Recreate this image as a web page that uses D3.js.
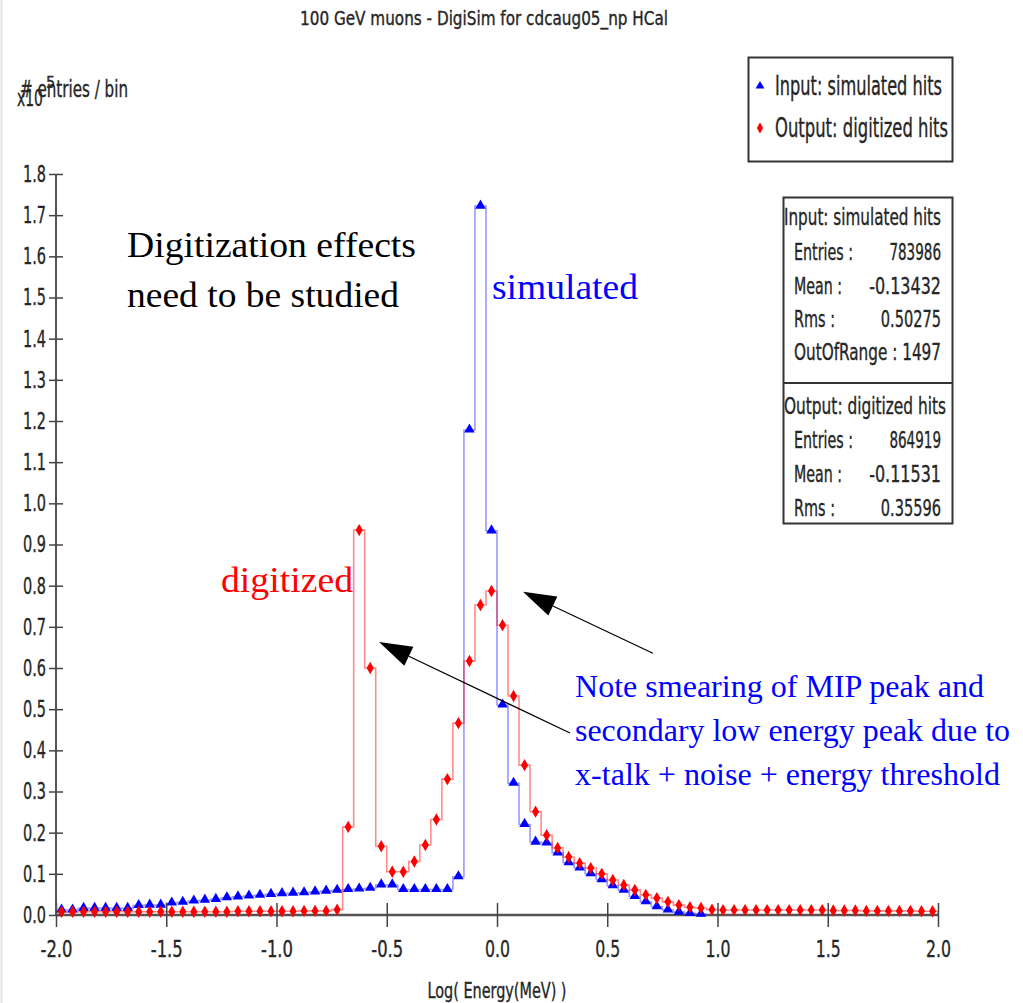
<!DOCTYPE html>
<html>
<head>
<meta charset="utf-8">
<script src="https://cdn.jsdelivr.net/npm/d3@7"></script>
<style>
  body { margin: 0; background: #fff; }
  svg { display: block; }
  .cond { font-family: "Liberation Sans Narrow", "DejaVu Sans Condensed", "Arial Narrow", sans-serif;
          stroke: #262626; stroke-width: 0.35px; }
</style>
</head>
<body>
<svg id="chart" width="1023" height="1003"></svg>
<script>
// histogram: 80 bins of 0.05 from -2 to 2, entries in units of 1e5
const binLow = -2.0;
const binWidth = 0.05;

const simHits = [
  0.012, 0.012, 0.016, 0.016, 0.016, 0.016, 0.016, 0.023, 0.024, 0.024,
  0.029, 0.031, 0.034, 0.036, 0.038, 0.042, 0.044, 0.046, 0.048, 0.050,
  0.052, 0.053, 0.054, 0.056, 0.058, 0.060, 0.062, 0.063, 0.065, 0.073,
  0.073, 0.062, 0.062, 0.062, 0.062, 0.062, 0.093, 1.178, 1.722, 0.933,
  0.510, 0.320, 0.220, 0.177, 0.175, 0.151, 0.127, 0.114, 0.100, 0.086,
  0.071, 0.060, 0.045, 0.032, 0.020, 0.012, 0.007, 0.004, 0.002, 0,
  0, 0, 0, 0, 0, 0, 0, 0, 0, 0,
  0, 0, 0, 0, 0, 0, 0, 0, 0, 0
];

const digiHits = [
  0.008, 0.008, 0.008, 0.008, 0.008, 0.008, 0.008, 0.008, 0.008, 0.008,
  0.008, 0.008, 0.008, 0.008, 0.008, 0.008, 0.009, 0.009, 0.009, 0.009,
  0.009, 0.009, 0.010, 0.010, 0.010, 0.013, 0.214, 0.935, 0.600, 0.167,
  0.105, 0.105, 0.130, 0.170, 0.232, 0.330, 0.466, 0.617, 0.753, 0.787,
  0.704, 0.532, 0.364, 0.251, 0.194, 0.163, 0.141, 0.126, 0.114, 0.100,
  0.085, 0.073, 0.061, 0.049, 0.041, 0.032, 0.024, 0.019, 0.017, 0.013,
  0.012, 0.012, 0.012, 0.012, 0.012, 0.012, 0.012, 0.012, 0.012, 0.012,
  0.011, 0.011, 0.011, 0.010, 0.010, 0.010, 0.010, 0.010, 0.009, 0.009
];

const xTicks = [-2.0, -1.5, -1.0, -0.5, 0.0, 0.5, 1.0, 1.5, 2.0];
const yTicks = [0.0, 0.1, 0.2, 0.3, 0.4, 0.5, 0.6, 0.7, 0.8, 0.9,
                1.0, 1.1, 1.2, 1.3, 1.4, 1.5, 1.6, 1.7, 1.8];

const simStats = [["Entries :", "783986"], ["Mean :", "-0.13432"], ["Rms :", "0.50275"]];
const digiStats = [["Entries :", "864919"], ["Mean :", "-0.11531"], ["Rms :", "0.35596"]];
const simOutOfRange = "OutOfRange : 1497";

const svg = d3.select("#chart");
const ink = "#262626";
const serif = '"Liberation Serif", "Times New Roman", serif';

const x = d3.scaleLinear().domain([-2, 2]).range([56, 938]);
const y = d3.scaleLinear().domain([0, 1.8]).range([915, 174]);

// left border of the original frame
svg.append("line")
  .attr("x1", 1.5).attr("x2", 1.5).attr("y1", 0).attr("y2", 1003)
  .attr("stroke", "#e4e4e4").attr("stroke-width", 2);

// title
svg.append("text").attr("class", "cond")
  .attr("x", 484).attr("y", 25)
  .attr("text-anchor", "middle")
  .attr("font-size", 19).attr("fill", ink)
  .attr("textLength", 368).attr("lengthAdjust", "spacingAndGlyphs")
  .text("100 GeV muons - DigiSim for cdcaug05_np HCal");

// step outlines
function stepPoints(vals) {
  let pts = [[binLow, 0]];
  vals.forEach((v, i) => pts.push([binLow + i * binWidth, v]));
  pts.push([binLow + vals.length * binWidth, vals[vals.length - 1]]);
  pts.push([binLow + vals.length * binWidth, 0]);
  return pts;
}
const step = d3.line().x(d => x(d[0])).y(d => y(d[1])).curve(d3.curveStepAfter);

svg.append("path")
  .attr("d", step(stepPoints(simHits)))
  .attr("fill", "none").attr("stroke", "#0000ff")
  .attr("stroke-opacity", 0.4).attr("stroke-width", 1.6);

svg.append("path")
  .attr("d", step(stepPoints(digiHits)))
  .attr("fill", "none").attr("stroke", "#ff0000")
  .attr("stroke-opacity", 0.45).attr("stroke-width", 1.6);

// axes
const axisX = d3.axisBottom(x).tickValues(xTicks).tickSize(12).tickPadding(14)
  .tickFormat(d => d.toFixed(1));
const axisY = d3.axisLeft(y).tickValues(yTicks).tickSize(7).tickPadding(3)
  .tickFormat(d => d.toFixed(1));

const gx = svg.append("g").attr("transform", `translate(0,${y(0)})`).call(axisX);
gx.selectAll(".tick line").attr("y1", -12).attr("stroke", "#444").attr("stroke-width", 1.5);
gx.select(".domain").attr("stroke", "#555").attr("stroke-width", 2.5).attr("d", `M${x(-2)},0H${x(2)}`);
gx.selectAll(".tick text").attr("textLength", d => d < 0 ? 32 : 25);

const gy = svg.append("g").attr("transform", `translate(${x(-2)},0)`).call(axisY);
gy.selectAll(".tick line").attr("x1", 7).attr("stroke", "#444").attr("stroke-width", 1.5);
gy.select(".domain").attr("stroke", "#555").attr("stroke-width", 2).attr("d", `M0,${y(1.8)}V${y(0)}`);
gy.selectAll(".tick text").attr("textLength", 23);

svg.selectAll(".tick text")
  .attr("class", "cond").attr("font-size", 23).attr("fill", ink)
  .attr("lengthAdjust", "spacingAndGlyphs");

// markers
const tri = d3.symbol().type(d3.symbolTriangle).size(48);
const dia = d3.symbol().type(d3.symbolDiamond).size(44);

svg.append("g").selectAll("path")
  .data(simHits.map((v, i) => ({ v, i })).filter(d => d.v > 0))
  .join("path")
  .attr("d", tri)
  .attr("transform", d => `translate(${x(binLow + (d.i + 0.5) * binWidth)},${y(d.v) - 0.5})`)
  .attr("fill", "#0000ff");

svg.append("g").selectAll("path")
  .data(digiHits.map((v, i) => ({ v, i })).filter(d => d.v > 0))
  .join("path")
  .attr("d", dia)
  .attr("transform", d => `translate(${x(binLow + (d.i + 0.5) * binWidth)},${y(d.v)})`)
  .attr("fill", "#ff0000");

// axis titles
svg.append("text").attr("class", "cond")
  .attr("x", 20).attr("y", 97).attr("font-size", 23).attr("fill", ink)
  .attr("textLength", 108).attr("lengthAdjust", "spacingAndGlyphs")
  .text("# entries / bin");
svg.append("text").attr("class", "cond")
  .attr("x", 17).attr("y", 106).attr("font-size", 23).attr("fill", ink)
  .attr("textLength", 26).attr("lengthAdjust", "spacingAndGlyphs")
  .text("x10");
svg.append("text").attr("class", "cond")
  .attr("x", 46).attr("y", 88).attr("font-size", 16).attr("fill", ink)
  .text("5");

svg.append("text").attr("class", "cond")
  .attr("x", 497).attr("y", 998).attr("text-anchor", "middle")
  .attr("font-size", 22).attr("fill", ink)
  .attr("textLength", 139).attr("lengthAdjust", "spacingAndGlyphs")
  .text("Log( Energy(MeV) )");

// legend
const leg = svg.append("g");
leg.append("rect").attr("x", 748.5).attr("y", 57.5).attr("width", 204).attr("height", 104)
  .attr("fill", "#fff").attr("stroke", "#333").attr("stroke-width", 2);
leg.append("path").attr("d", d3.symbol().type(d3.symbolTriangle).size(34)())
  .attr("transform", "translate(760,86)").attr("fill", "#0000ff");
leg.append("path").attr("d", d3.symbol().type(d3.symbolDiamond).size(34)())
  .attr("transform", "translate(760,128)").attr("fill", "#ff0000");
leg.append("text").attr("class", "cond").attr("x", 775).attr("y", 95)
  .attr("font-size", 26).attr("fill", ink)
  .attr("textLength", 167).attr("lengthAdjust", "spacingAndGlyphs")
  .text("Input: simulated hits");
leg.append("text").attr("class", "cond").attr("x", 775).attr("y", 137)
  .attr("font-size", 26).attr("fill", ink)
  .attr("textLength", 173).attr("lengthAdjust", "spacingAndGlyphs")
  .text("Output: digitized hits");

// statistics box
const st = svg.append("g").attr("class", "cond").attr("fill", ink).attr("font-size", 23);
st.append("rect").attr("x", 783.5).attr("y", 197.5).attr("width", 169).attr("height", 326)
  .attr("fill", "#fff").attr("stroke", "#333").attr("stroke-width", 2);
st.append("line").attr("x1", 783.5).attr("x2", 952.5).attr("y1", 383).attr("y2", 383)
  .attr("stroke", "#333").attr("stroke-width", 2);

const labelWidths = { "Entries :": 59, "Mean :": 48, "Rms :": 41 };
function statRows(rows, ys) {
  rows.forEach((r, i) => {
    st.append("text").attr("x", 794).attr("y", ys[i])
      .attr("textLength", labelWidths[r[0]]).attr("lengthAdjust", "spacingAndGlyphs").text(r[0]);
    st.append("text").attr("x", 941).attr("y", ys[i]).attr("text-anchor", "end")
      .attr("textLength", r[1].length * 8.6 + (r[1][0] === "-" ? 3 : 0))
      .attr("lengthAdjust", "spacingAndGlyphs").text(r[1]);
  });
}

st.append("text").attr("x", 784).attr("y", 225)
  .attr("textLength", 157).attr("lengthAdjust", "spacingAndGlyphs")
  .text("Input: simulated hits");
statRows(simStats, [260, 294, 327]);
st.append("text").attr("x", 794).attr("y", 360)
  .attr("textLength", 147).attr("lengthAdjust", "spacingAndGlyphs")
  .text(simOutOfRange);

st.append("text").attr("x", 784).attr("y", 414)
  .attr("textLength", 162).attr("lengthAdjust", "spacingAndGlyphs")
  .text("Output: digitized hits");
statRows(digiStats, [448, 482, 516]);

// annotations
const note = svg.append("g");
function serifText(t, px, py, size, color, w) {
  note.append("text").attr("x", px).attr("y", py)
    .attr("font-family", serif).attr("font-size", size).attr("fill", color)
    .attr("textLength", w).attr("lengthAdjust", "spacingAndGlyphs").text(t);
}
serifText("Digitization effects", 127, 257, 36, "#000", 289);
serifText("need to be studied", 127, 307, 36, "#000", 272);
serifText("simulated", 492, 299, 36, "#0000ff", 146);
serifText("digitized", 221, 592, 36, "#ff0000", 132);

const noteLines = ["Note smearing of MIP peak and", "secondary low energy peak due to", "x-talk + noise + energy threshold"];
const noteWidths = [409, 435, 425];
noteLines.forEach((t, i) => serifText(t, 575, 697 + i * 44, 31, "#0000ff", noteWidths[i]));

// arrows, given in data coordinates
const arrows = [
  { from: [0.707, 0.636], to: [0.118, 0.785] },
  { from: [0.331, 0.442], to: [-0.535, 0.663] }
];
arrows.forEach(a => {
  const x0 = x(a.from[0]), y0 = y(a.from[1]);
  const x1 = x(a.to[0]), y1 = y(a.to[1]);
  const ang = Math.atan2(y1 - y0, x1 - x0);
  const len = 33, hw = 10.5;
  const bx = x1 - len * Math.cos(ang), by = y1 - len * Math.sin(ang);
  svg.append("line").attr("x1", x0).attr("y1", y0).attr("x2", bx).attr("y2", by)
    .attr("stroke", "#000").attr("stroke-width", 1.2);
  svg.append("path")
    .attr("d", `M${x1},${y1}L${bx + hw * Math.sin(ang)},${by - hw * Math.cos(ang)}L${bx - hw * Math.sin(ang)},${by + hw * Math.cos(ang)}Z`)
    .attr("fill", "#000");
});
</script>
</body>
</html>
